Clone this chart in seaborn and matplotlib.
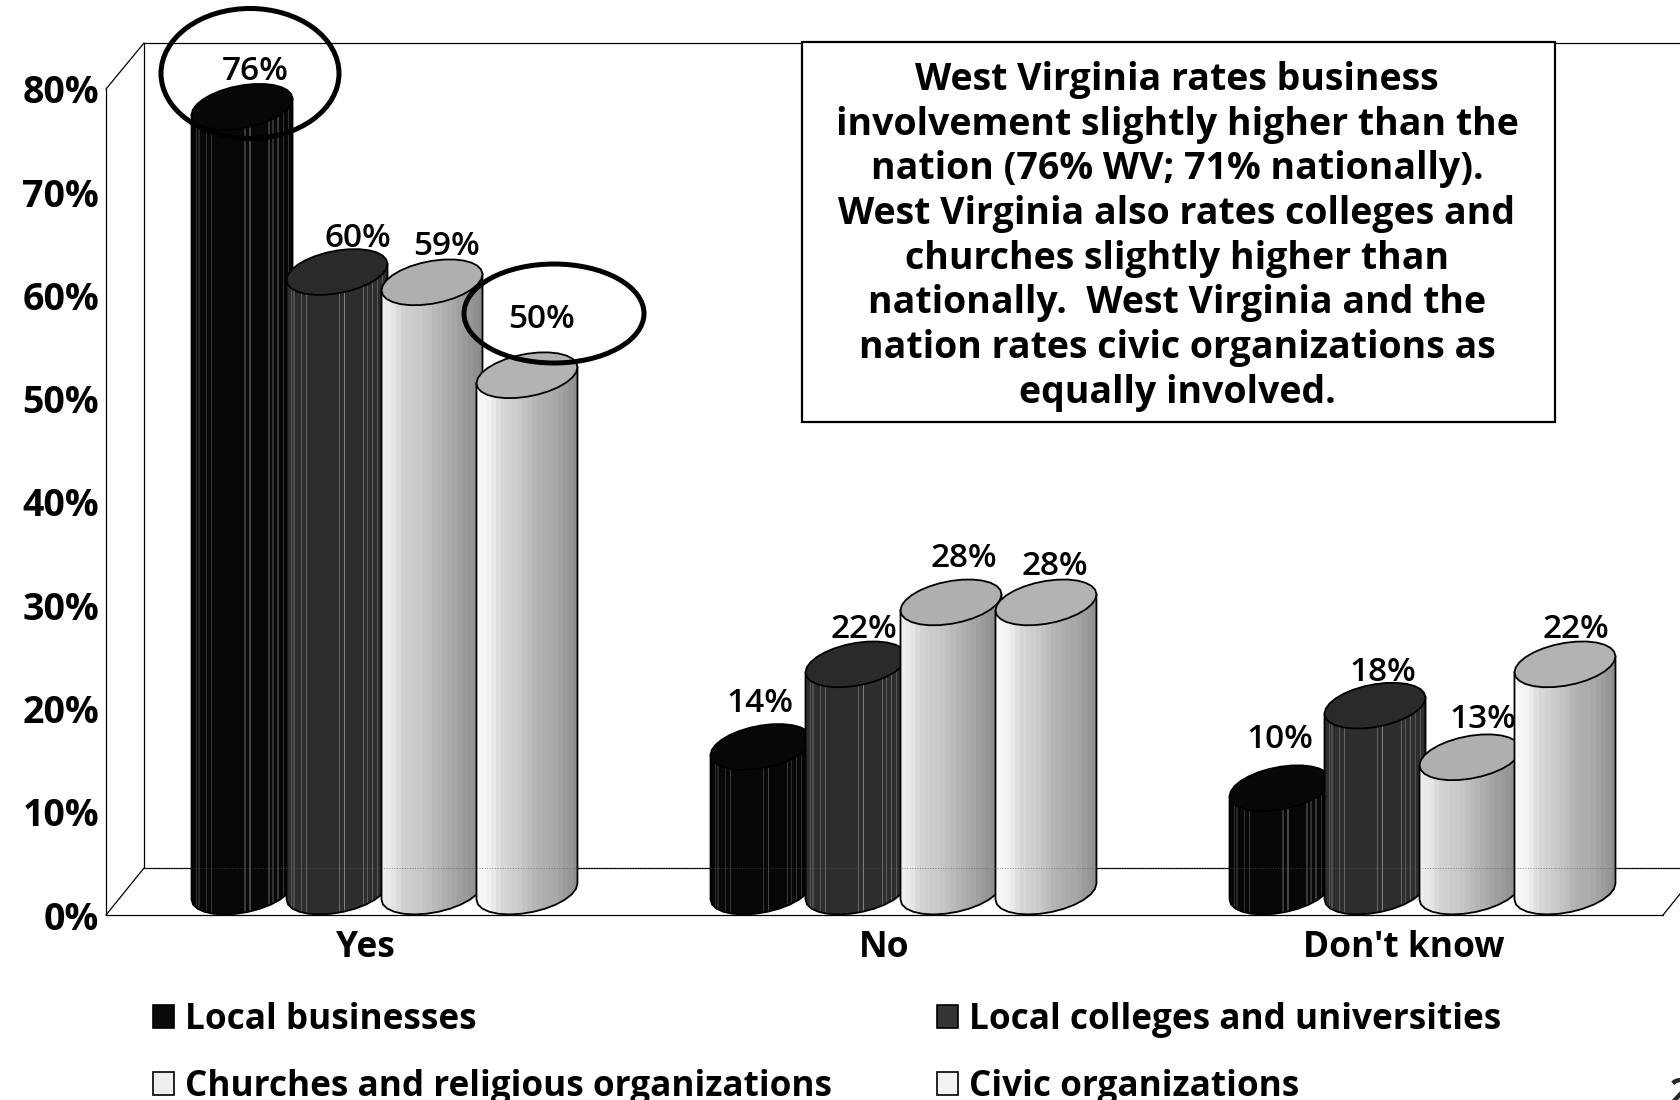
import numpy as np
import pandas as pd
import matplotlib.pyplot as plt
import seaborn as sns
from matplotlib.patches import Ellipse, Polygon, Rectangle
from matplotlib.lines import Line2D
from matplotlib.transforms import Affine2D

# values
answers = ['Yes', 'No', "Don't know"]
groups = ['Local businesses', 'Local colleges and universities',
          'Churches and religious organizations', 'Civic organizations']
local_businesses = [76, 14, 10]
local_colleges = [60, 22, 18]
churches = [59, 28, 13]
civic = [50, 28, 22]
y_ticks = [0, 10, 20, 30, 40, 50, 60, 70, 80]

note_lines = ['West Virginia rates business',
              'involvement slightly higher than the',
              'nation (76% WV; 71% nationally).',
              'West Virginia also rates colleges and',
              'churches slightly higher than',
              'nationally.  West Virginia and the',
              'nation rates civic organizations as',
              'equally involved.']

# legend colours and cylinder top colours
swatch_colors = ['#0a0a0a', '#343434', '#eeeeee', '#f3f3f3']
top_colors = ['#070707', '#2a2a2a', '#afafaf', '#b3b3b3']
# label shift from the top of each cylinder, pixels (right, up)
label_shift = [[(16, 35), (2, 43), (3, 49)],
               [(24, 33), (11, 35), (11, 33)],
               [(18, 36), (16, 44), (16, 38)],
               [(18, 56), (12, 36), (14, 35)]]

sns.set_style('white')
plt.rcParams['font.family'] = 'Open Sans'
plt.rcParams['font.weight'] = 'bold'

W, H = 1680, 1100
LEFT, RIGHT, TOP, BASE = 106, 1663, 89, 915
DEPTH_X, DEPTH_Y = 38, 47

fig = plt.figure(figsize=(W / 100, H / 100), dpi=100, facecolor='white')
ax = fig.add_axes([LEFT / W, 1 - BASE / H, (RIGHT - LEFT) / W, (BASE - TOP) / H])
ax.patch.set_alpha(0)

df = pd.DataFrame({
    'answer': answers * 4,
    'group': np.repeat(groups, 3),
    'value': local_businesses + local_colleges + churches + civic,
})
sns.barplot(data=df, x='answer', y='value', hue='group', order=answers, hue_order=groups,
            palette=dict(zip(groups, swatch_colors)), width=0.732, gap=0,
            edgecolor='black', linewidth=1.2, saturation=1, ax=ax)
ax.set_xlim(-0.5, 2.5)
ax.set_ylim(0, 80)
ax.set_xlabel('')
ax.set_ylabel('')
ax.set_yticks(y_ticks)
ax.set_yticklabels([f'{t}%' for t in y_ticks], fontweight='bold', va='center_baseline')
ax.set_xticks(range(3))
ax.set_xticklabels(answers, fontweight='bold')
ax.tick_params(axis='y', length=0, pad=5, labelsize=27, labelcolor='black')
ax.tick_params(axis='x', length=0, pad=11, labelsize=25.5, labelcolor='black')
sns.despine(ax=ax, left=True, bottom=True)

# pixel positions of the reference, for the frame and the call-outs
px = Affine2D().scale(1 / W, -1 / H).translate(0, 1) + fig.transFigure
sx = 3 / (RIGHT - LEFT)
sy = 80 / (BASE - TOP)


def frame_line(xs, ys):
    ax.add_line(Line2D(xs, ys, transform=px, color='black', lw=0.9, clip_on=False, zorder=1))


back_x, back_top, floor = LEFT + DEPTH_X, 43, BASE - DEPTH_Y
frame_line([LEFT, LEFT], [TOP, BASE])
frame_line([LEFT, back_x], [TOP, back_top])
frame_line([back_x, W], [back_top, back_top])
frame_line([back_x, back_x], [back_top, floor])
frame_line([back_x, W], [floor, floor])
frame_line([LEFT, RIGHT], [BASE, BASE])
frame_line([LEFT, back_x], [BASE, floor])
frame_line([RIGHT, W], [BASE, BASE - 21])
# floor line shows faintly through the cylinders
ax.add_line(Line2D([back_x, W], [floor, floor], transform=px, color='#555555', lw=0.7, ls=':',
                   alpha=0.6, clip_on=False, zorder=8))


def dark_shade(base, line, spots):
    col = np.full(80, base)
    for pos, level in spots:
        col[int(pos * 79)] = level * line
    return col


def light_shade(stops, levels):
    pos = np.linspace(0, 1, 20)
    return np.repeat(np.interp(pos, stops, levels), 4)


spots = [(.04, .7), (.07, .6), (.15, .7), (.2, .8), (.52, .8), (.58, 1), (.76, .8),
         (.81, .7), (.86, .8), (.9, .7), (.96, .7)]
shades = [dark_shade(.03, .27, spots),
          dark_shade(.18, .5, spots),
          light_shade([0, .1, .2, .4, .55, .7, .85, 1], [.93, .9, .82, .78, .72, .66, .6, .55]),
          light_shade([0, .12, .25, .45, .6, .8, 1], [.97, .95, .84, .78, .7, .66, .56])]

# turn the flat bars from seaborn into cylinders
half_w, half_h, tilt = 50.5 * sx, 21.5 * sy, 8 * sy
base_y = DEPTH_Y / 2 * sy
t_low = np.linspace(0, -np.pi, 14)
t_all = np.linspace(0, 2 * np.pi, 29)
for i, bars in enumerate(ax.containers):
    z = 3 + i
    for j, bar in enumerate(bars):
        bar.set_x(bar.get_x() + DEPTH_X / 2 * sx)
        bar.set_y(base_y)
        bar.set_linewidth(0)
        cx = bar.get_x() + bar.get_width() / 2
        top_y = base_y + bar.get_height()

        low = np.c_[cx + half_w * np.cos(t_low),
                    base_y + half_h * np.sin(t_low) + tilt * np.cos(t_low)]
        body = np.vstack([low, [cx - half_w, top_y - tilt], [cx + half_w, top_y + tilt]])
        outline = Polygon(body, closed=True, fc='none', ec='black', lw=1.3, zorder=z + .2, clip_on=False)
        ax.add_patch(outline)
        img = ax.imshow(shades[i][None, :], extent=(cx - half_w, cx + half_w, 0, top_y + tilt),
                        cmap='gray', vmin=0, vmax=1, aspect='auto', interpolation='nearest', zorder=z)
        img.set_clip_path(outline)

        cap = np.c_[cx + half_w * np.cos(t_all),
                    top_y + half_h * np.sin(t_all) + tilt * np.cos(t_all)]
        ax.add_patch(Polygon(cap, closed=True, fc=top_colors[i], ec='black', lw=1.3, zorder=z + .4, clip_on=False))

        shift = label_shift[i][j]
        ax.annotate(f'{int(bar.get_height())}%', (cx - 3 * sx, top_y), xytext=(shift[0] * .72, shift[1] * .72),
                    textcoords='offset points', ha='center', va='center', fontsize=24,
                    fontweight='semibold', color='black', zorder=20, annotation_clip=False)
ax.set_xlim(-0.5, 2.5)
ax.set_ylim(0, 80)

# call-out rings
ax.add_patch(Ellipse((250, 73.5), 178, 130, transform=px, fc='none', ec='black', lw=3.6, zorder=15, clip_on=False))
ax.add_patch(Ellipse((554, 313.5), 180, 99, transform=px, fc='none', ec='black', lw=3.6, zorder=15, clip_on=False))

# note box
ax.add_patch(Rectangle((802, 42), 753, 380, transform=px, fc='white', ec='black', lw=1.6, zorder=12, clip_on=False))
for n, line in enumerate(note_lines):
    ax.text(1177, 90 + n * 44.7, line, transform=px, ha='center', va='baseline', fontsize=27,
            fontweight='bold', color='black', zorder=13)

# page number, cut by the page edge as in the reference
ax.text(1670, 1104, '2', transform=px, ha='left', va='baseline', fontsize=25, fontweight='bold', clip_on=False)

# legend fills by column, reference reads by row
handles, labels = ax.get_legend_handles_labels()
order = [0, 2, 1, 3]
ax.legend([handles[k] for k in order], [labels[k] for k in order], ncol=2, frameon=False,
          loc='upper left', bbox_to_anchor=(153, 1002), bbox_transform=px, borderpad=0, borderaxespad=0,
          prop={'size': 25.3, 'weight': 'bold'}, labelcolor='black', handlelength=0.6, handleheight=0.63,
          handletextpad=0.31, labelspacing=0.87, columnspacing=3.0)

plt.savefig('out.png', dpi=100)
